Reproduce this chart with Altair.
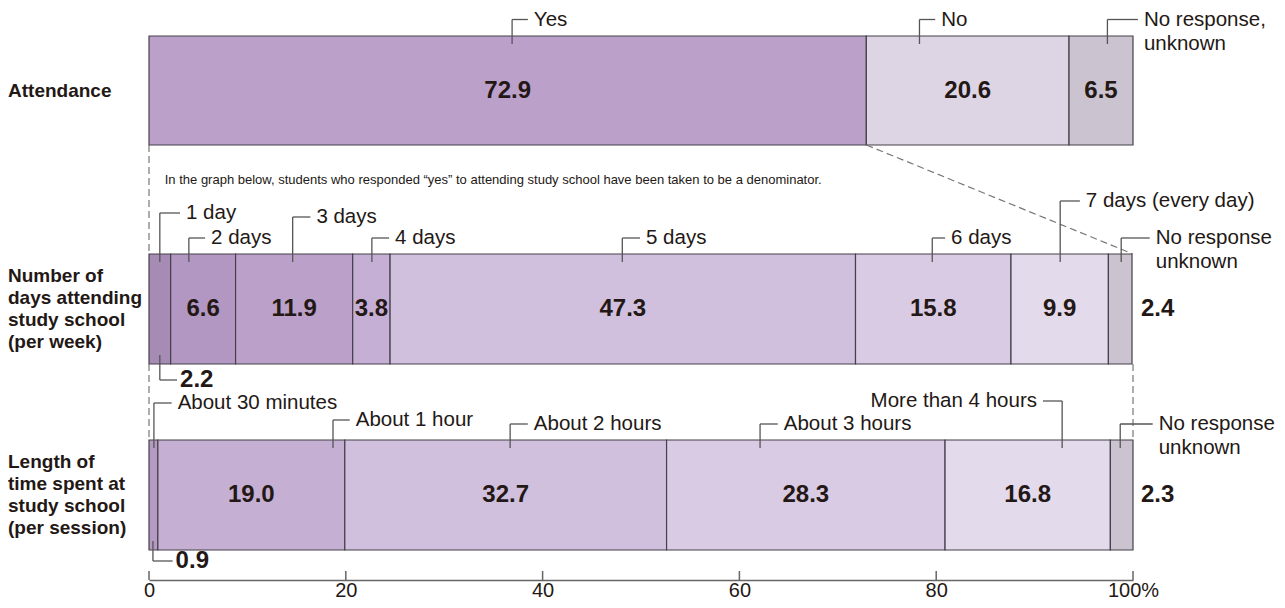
import altair as alt
import pandas as pd

# ---------------- data ----------------
attendance_labels = ["Yes", "No", "No response, unknown"]
attendance_values = [72.9, 20.6, 6.5]

days_labels = ["1 day", "2 days", "3 days", "4 days", "5 days", "6 days",
               "7 days (every day)", "No response unknown"]
days_values = [2.2, 6.6, 11.9, 3.8, 47.3, 15.8, 9.9, 2.4]

length_labels = ["About 30 minutes", "About 1 hour", "About 2 hours",
                 "About 3 hours", "More than 4 hours", "No response unknown"]
length_values = [0.9, 19.0, 32.7, 28.3, 16.8, 2.3]

row_titles = [["Attendance"],
              ["Number of", "days attending", "study school", "(per week)"],
              ["Length of", "time spent at", "study school", "(per session)"]]

tick_values = [0, 20, 40, 60, 80, 100]
note = ("In the graph below, students who responded \u201cyes\u201d to attending "
        "study school have been taken to be a denominator.")

# ---------------- styles / layout ----------------
colors = [
    ["#BBA0C9", "#DDD4E4", "#CBC3D0"],
    ["#A68CB4", "#B197C2", "#BBA0C9", "#C6AFD4", "#D0C0DD", "#DACBE4", "#E3DAEB", "#CBC3D0"],
    ["#B59AC4", "#C5AFD3", "#D0C0DD", "#DACBE4", "#E3DAEB", "#CBC3D0"],
]
row_top = [30, 248, 434]
row_bottom = [139, 358, 544]
# where each number goes: inside the bar, below-left, or right of the bar
num_place = [
    ["in", "in", "in"],
    ["below", "in", "in", "in", "in", "in", "in", "right"],
    ["below", "in", "in", "in", "in", "right"],
]
# callouts: (anchor in %, text y, end of horizontal leg in %)
callouts = [
    [(36.9, 13.5, 38.5), (78.3, 13.5, 79.9), (97.4, 13.5, 100.5)],
    [(1.1, 207, 3.15), (4.05, 232, 5.7), (14.6, 211, 16.4), (22.65, 232, 24.4),
     (48.1, 232, 49.9), (79.6, 232, 80.9), (92.6, 195, 94.6), (98.8, 232, 101.7)],
    [(0.5, 397, 2.3), (18.7, 414, 20.4), (36.7, 418, 38.5), (62.1, 418, 63.9),
     (92.8, 395, 90.85), (98.7, 418, 102.0)],
]
below_callouts = {1: (1.1, 374, 2.85), 2: (0.4, 555, 2.4)}

TXT = "#231815"
LINE = "#555555"
FONT = "Liberation Sans"
AXIS_Y = 574          # axis line position (same units as the row tops/bottoms)
SHIFT = 2             # small upward shift so the tick labels fit in the page
W, H = 984, AXIS_Y - SHIFT

all_labels = [attendance_labels, days_labels, length_labels]
all_values = [attendance_values, days_values, length_values]

seg_rows, num_rows, call_txt, vlines, hlines, below_txt = [], [], [], [], [], []
color_domain, color_range = [], []
for r, (labs, vals) in enumerate(zip(all_labels, all_values)):
    start = 0.0
    for i, (lab, v) in enumerate(zip(labs, vals)):
        end = start + v
        key = f"{r}|{lab}"
        color_domain.append(key)
        color_range.append(colors[r][i])
        seg_rows.append(dict(key=key, start=start, end=end, top=row_top[r], bottom=row_bottom[r]))
        place = num_place[r][i]
        if place == "in":
            num_rows.append(dict(x=(start + end) / 2, y=(row_top[r] + row_bottom[r]) / 2,
                                 t=f"{v:.1f}", align="center"))
        elif place == "right":
            num_rows.append(dict(x=100, y=(row_top[r] + row_bottom[r]) / 2,
                                 t=f"{v:.1f}", align="left"))
        else:
            a, ty, xe = below_callouts[r]
            vlines.append(dict(x=a, y=row_bottom[r] - 9, y2=ty))
            hlines.append(dict(x=a, x2=xe, y=ty))
            below_txt.append(dict(x=xe, y=ty, t=f"{v:.1f}"))
        a, ty, xe = callouts[r][i]
        vlines.append(dict(x=a, y=ty, y2=row_top[r] + 8))
        hlines.append(dict(x=a, x2=xe, y=ty))
        side = "left" if xe >= a else "right"
        if lab.startswith("No response"):
            lines = ["No response,", "unknown"] if "," in lab else ["No response", "unknown"]
        else:
            lines = [lab]
        for k, ln in enumerate(lines):
            call_txt.append(dict(x=xe, y=ty + 24 * k, t=ln, side=side))
        start = end

seg_df = pd.DataFrame(seg_rows)
num_df = pd.DataFrame(num_rows)
vl_df = pd.DataFrame(vlines)
hl_df = pd.DataFrame(hlines)
below_df = pd.DataFrame(below_txt)
call_df = pd.DataFrame(call_txt)

title_rows = []
for r, lines in enumerate(row_titles):
    c = (row_top[r] + row_bottom[r]) / 2
    n = len(lines)
    for k, ln in enumerate(lines):
        title_rows.append(dict(y=c + (k - (n - 1) / 2) * 22, t=ln))
title_df = pd.DataFrame(title_rows)

dash_df = pd.DataFrame([
    dict(x=0, x2=0, y=row_bottom[0], y2=row_top[1]),
    dict(x=attendance_values[0], x2=100, y=row_bottom[0], y2=row_top[1]),
    dict(x=0, x2=0, y=row_bottom[1], y2=row_top[2]),
    dict(x=100, x2=100, y=row_bottom[1], y2=row_top[2]),
])
tick_df = pd.DataFrame(dict(x=tick_values, y=[AXIS_Y - 9] * len(tick_values),
                            y2=[AXIS_Y] * len(tick_values)))
note_df = pd.DataFrame([dict(x=1.6, y=174, t=note)])

xscale = alt.Scale(domain=[0, 100], nice=False, zero=False)
yscale = alt.Scale(domain=[SHIFT, AXIS_Y], reverse=True, nice=False, zero=False)
xaxis = alt.Axis(values=tick_values, title=None, ticks=False, grid=False,
                 labelFontSize=20, labelFont=FONT, labelColor=TXT, labelPadding=0,
                 labelFlush=False, labelOverlap=False,
                 domainColor="#666666", domainWidth=1.5,
                 labelExpr="datum.value == 100 ? '100%' : datum.label")


def X(f):
    return alt.X(f, type="quantitative", scale=xscale, axis=xaxis)


def Y(f):
    return alt.Y(f, type="quantitative", scale=yscale, axis=None)


bars = alt.Chart(seg_df).mark_rect(stroke="#45404a", strokeWidth=1.2).encode(
    x=X("start"), x2="end", y=Y("top"), y2="bottom",
    fill=alt.Fill("key:N", scale=alt.Scale(domain=color_domain, range=color_range), legend=None),
)

NUM = dict(font=FONT, fontSize=24, fontWeight="bold", color=TXT, baseline="middle")
nums_in = alt.Chart(num_df[num_df["align"] == "center"]).mark_text(align="center", **NUM).encode(
    x=X("x"), y=Y("y"), text="t:N")
nums_right = alt.Chart(num_df[num_df["align"] == "left"]).mark_text(align="left", dx=8, **NUM).encode(
    x=X("x"), y=Y("y"), text="t:N")
nums_below = alt.Chart(below_df).mark_text(align="left", dx=3, **NUM).encode(
    x=X("x"), y=Y("y"), text="t:N")

dashes = alt.Chart(dash_df).mark_rule(color="#777777", strokeWidth=1.2, strokeDash=[7, 4]).encode(
    x=X("x"), x2="x2", y=Y("y"), y2="y2")

vrules = alt.Chart(vl_df).mark_rule(color=LINE, strokeWidth=1.3).encode(x=X("x"), y=Y("y"), y2="y2")
hrules = alt.Chart(hl_df).mark_rule(color=LINE, strokeWidth=1.3).encode(x=X("x"), x2="x2", y=Y("y"))

CALL = dict(font=FONT, fontSize=20.5, color=TXT, baseline="middle")
call_left = alt.Chart(call_df[call_df["side"] == "left"]).mark_text(align="left", dx=6, **CALL).encode(
    x=X("x"), y=Y("y"), text="t:N")
call_right = alt.Chart(call_df[call_df["side"] == "right"]).mark_text(align="right", dx=-6, **CALL).encode(
    x=X("x"), y=Y("y"), text="t:N")

titles = alt.Chart(title_df).mark_text(
    font=FONT, fontSize=19, fontWeight="bold", color=TXT, baseline="middle", align="left"
).encode(x=alt.value(-141), y=Y("y"), text="t:N")

note_txt = alt.Chart(note_df).mark_text(
    font=FONT, fontSize=13, color=TXT, baseline="middle", align="left"
).encode(x=X("x"), y=Y("y"), text="t:N")

ticks = alt.Chart(tick_df).mark_rule(color="#666666", strokeWidth=1.5).encode(
    x=X("x"), y=Y("y"), y2="y2")

chart = alt.layer(
    bars, dashes, vrules, hrules, nums_in, nums_right, nums_below,
    call_left, call_right, titles, note_txt, ticks
).properties(
    width=W, height=H,
    padding={"left": 141, "top": 0, "right": 144, "bottom": 20},
    autosize=alt.AutoSizeParams(type="none"),
    background="white",
).configure_view(stroke=None)

chart.save("out.html", embed_options={"renderer": "svg", "actions": False})
